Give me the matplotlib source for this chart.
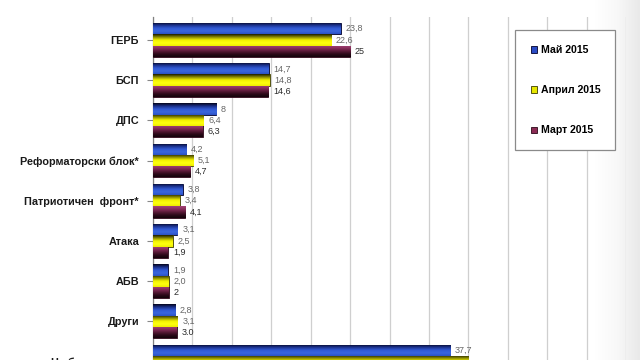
import matplotlib
matplotlib.use("Agg")
import matplotlib.pyplot as plt
import numpy as np
from matplotlib.colors import LinearSegmentedColormap
from matplotlib.patches import Patch, Rectangle

plt.rcParams['font.family'] = ['Liberation Sans', 'DejaVu Sans']

categories = ["ГЕРБ", "БСП", "ДПС", "Реформаторски блок*", "Патриотичен  фронт*",
              "Атака", "АБВ", "Други", "Не бих гласувал"]
series_names = ["Май 2015", "Април 2015", "Март 2015"]
may = [23.8, 14.7, 8.0, 4.2, 3.8, 3.1, 1.9, 2.8, 37.7]
april = [22.6, 14.8, 6.4, 5.1, 3.4, 2.5, 2.0, 3.1, 40.0]
march = [25.0, 14.6, 6.3, 4.7, 4.1, 1.9, 2.0, 3.0, 38.5]
# the last group's april/march labels fall below the picture edge
may_labels = ["23,8", "14,7", "8", "4,2", "3,8", "3,1", "1,9", "2,8", "37,7"]
april_labels = ["22,6", "14,8", "6,4", "5,1", "3,4", "2,5", "2,0", "3,1", ""]
march_labels = ["25", "14,6", "6,3", "4,7", "4,1", "1,9", "2", "3.0", ""]
x_ticks = np.arange(0, 61, 5)

# gradients, top -> bottom of each bar
grads = [
    ["#04041c", "#1a2f88", "#3158d2", "#3a66de", "#2b52c4"],
    ["#1c1c00", "#8a8a00", "#f2f200", "#ffff10", "#eeee00"],
    ["#a4457a", "#8a2f5c", "#5a1a38", "#2e0a1a", "#12040a"],
]
solid = ["#2a4bc4", "#e6e600", "#8b2c55"]
edges = ["#00002a", "#3a3a00", "#2a0818"]
label_cols = ["#666666", "#666666", "#2a2a2a"]

fig = plt.figure(figsize=(6.4, 3.6), dpi=100)
fig.patch.set_facecolor("white")

# slide shadow on right edge
sh = fig.add_axes([595 / 640, 0, 45 / 640, 1], zorder=0)
sh.imshow(np.linspace(0, 1, 100).reshape(1, -1), aspect="auto",
          cmap=LinearSegmentedColormap.from_list("sh", ["#ffffff", "#f8f8f8", "#e9e9e9"]))
sh.axis("off")

top_px, bot_px = 17, 401.8
ax = fig.add_axes([153 / 640, 1 - bot_px / 360, (626 - 153) / 640, (bot_px - top_px) / 360], zorder=1)
ax.patch.set_alpha(0)

y = np.arange(len(categories))
h = 0.28
offsets = [-h, 0, h]
data = [may, april, march]
labels = [may_labels, april_labels, march_labels]

for k in range(3):
    bars = ax.barh(y + offsets[k], data[k], height=h, color=solid[k],
                   edgecolor=edges[k], linewidth=0.6, zorder=3)
    cmap = LinearSegmentedColormap.from_list("g%d" % k, grads[k])
    for b in bars:
        bb = b.get_bbox()
        im = ax.imshow(np.linspace(0, 1, 64).reshape(-1, 1), cmap=cmap, aspect="auto",
                       origin="upper", extent=(bb.x0, bb.x1, bb.y1, bb.y0), zorder=3.5)
        im.set_clip_path(b)
    for yi, v, t in zip(y, data[k], labels[k]):
        if t:
            ax.annotate(t, (v, yi + offsets[k]), xytext=(3.5, 0), textcoords="offset points",
                        va="center", ha="left", fontsize=6.5, color=label_cols[k], zorder=5)

ax.set_xlim(0, 60)
ax.set_ylim(len(categories) - 0.0, -0.57)
ax.set_xticks(x_ticks)
ax.set_xticklabels([])
ax.tick_params(axis="x", length=0)
ax.grid(axis="x", color="#cfcfcf", linewidth=0.9, zorder=0)
ax.set_axisbelow(True)
ax.set_yticks(y)
ax.set_yticklabels(categories, fontsize=7.8, fontweight="bold", color="#1a1a1a")
ax.tick_params(axis="y", length=4, color="#888888", pad=6)
for s in ["top", "right", "bottom"]:
    ax.spines[s].set_visible(False)
ax.spines["left"].set_color("#808080")
ax.spines["left"].set_linewidth(0.9)

# legend box
fig.add_artist(Rectangle((515 / 640, 1 - 150 / 360), 100 / 640, 120 / 360,
                         transform=fig.transFigure, facecolor="white",
                         edgecolor="#8a8a8a", linewidth=0.9, zorder=2))
handles = [Patch(facecolor=solid[k], edgecolor=edges[k], linewidth=0.6) for k in range(3)]
leg = fig.legend(handles, series_names, loc="upper left",
                 bbox_to_anchor=(526 / 640, 1 - 40 / 360), frameon=False,
                 prop={"size": 7.6, "weight": "bold"}, handlelength=0.55, handleheight=0.55,
                 handletextpad=0.35, labelspacing=2.85, borderpad=0)
leg.set_zorder(3)

fig.savefig("out.png", dpi=100)
